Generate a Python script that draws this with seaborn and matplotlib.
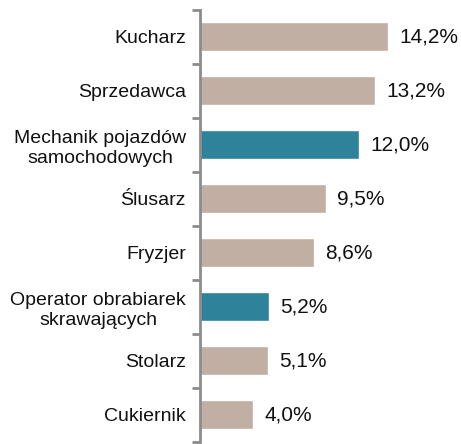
import matplotlib
matplotlib.use("Agg")
import matplotlib.pyplot as plt
import seaborn as sns
import pandas as pd

# Data
categories = ["Kucharz", "Sprzedawca", "Mechanik pojazdów\nsamochodowych", "Ślusarz",
              "Fryzjer", "Operator obrabiarek\nskrawających", "Stolarz", "Cukiernik"]
values = [14.2, 13.2, 12.0, 9.5, 8.6, 5.2, 5.1, 4.0]
highlight = [False, False, True, False, False, True, False, False]

beige = "#C2AFA4"
teal = "#2E839A"

df = pd.DataFrame({"zawod": categories, "udzial": values})
palette = [teal if h else beige for h in highlight]

sns.set_style("white")
plt.rcParams["font.family"] = ["Liberation Sans", "DejaVu Sans"]

fig = plt.figure(figsize=(4.61, 4.44), dpi=100)
ax = fig.add_axes([200 / 461, 0.005, 261 / 461, 0.973])

sns.barplot(data=df, y="zawod", x="udzial", hue="zawod", palette=palette,
            legend=False, width=0.54, ax=ax, saturation=1)

for i, v in enumerate(values):
    ax.text(v + 0.85, i, f"{v:.1f}%".replace(".", ","), va="center", ha="left",
            fontsize=15, color="#111111")

ax.set_xlim(0, 19.7)
ax.set_ylim(7.5, -0.5)
ax.set_xlabel("")
ax.set_ylabel("")
ax.set_xticks([])

for s in ["top", "right", "bottom"]:
    ax.spines[s].set_visible(False)
ax.spines["left"].set_color("#8C8C8C")
ax.spines["left"].set_linewidth(2)

ax.set_yticks(range(len(categories)))
ax.set_yticklabels(categories, fontsize=14, color="#111111", linespacing=1.25)
for lab in ax.get_yticklabels():
    lab.set_multialignment("center")
ax.tick_params(axis="y", which="major", length=0, pad=10)
ax.set_yticks([i - 0.5 for i in range(len(categories) + 1)], minor=True)
ax.tick_params(axis="y", which="minor", length=6, width=2, color="#8C8C8C", direction="out")
ax.tick_params(axis="y", which="minor", left=True)

fig.savefig("out.png", dpi=100)
